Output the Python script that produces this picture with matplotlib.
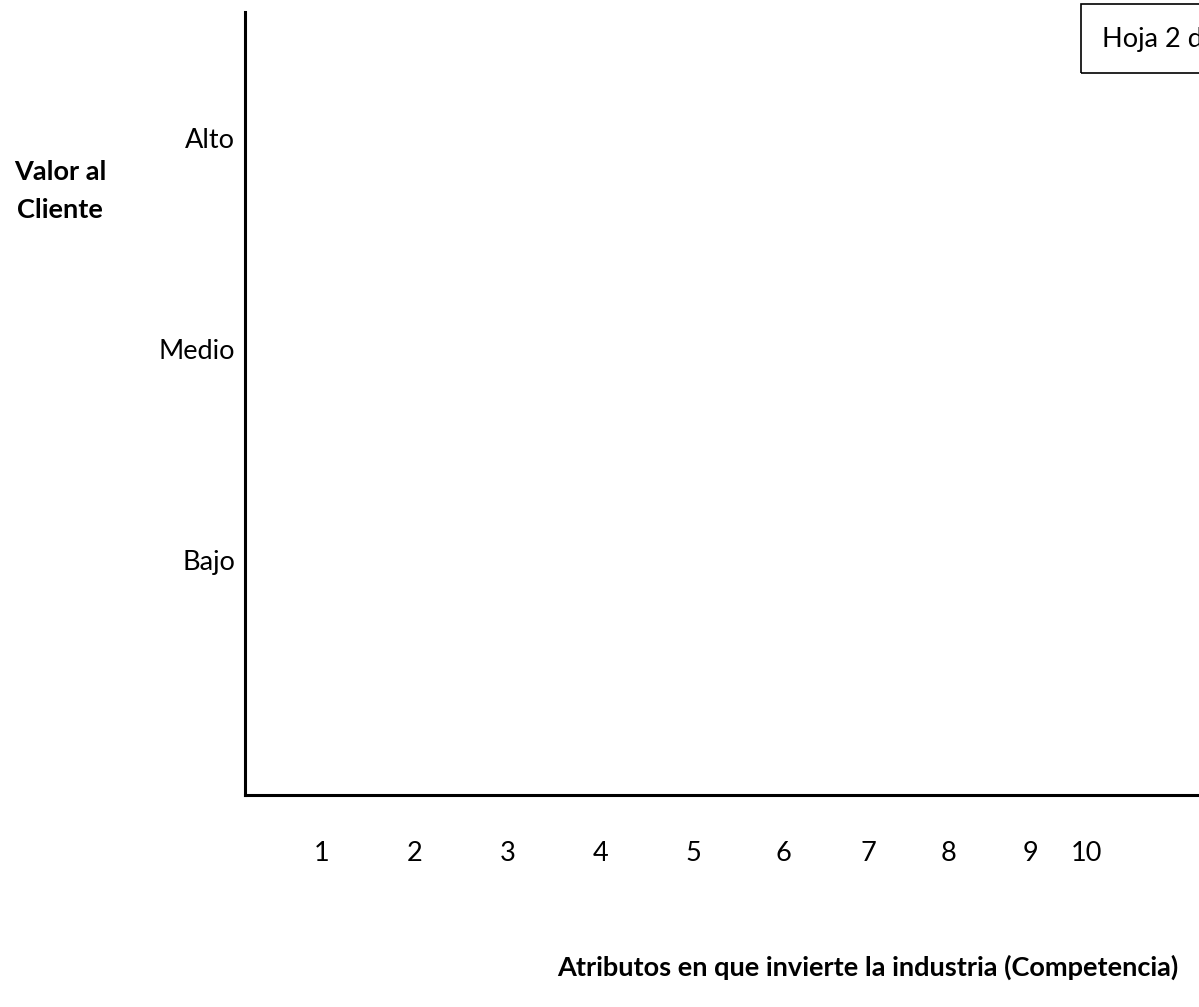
import matplotlib
matplotlib.use("Agg")
from matplotlib import pyplot as plt
from matplotlib.patches import Rectangle

plt.rcParams['font.family'] = ['Lato', 'DejaVu Sans']

# data
x_labels = ['1', '2', '3', '4', '5', '6', '7', '8', '9', '10']
x_pos = [322, 415, 508, 601, 693, 783, 868, 948, 1031, 1086]   # pixel layout of the labels
y_labels = ['Bajo', 'Medio', 'Alto']
y_vals = [1, 2, 3]
y_title = 'Valor al\nCliente'
x_title = 'Atributos en que invierte la industria (Competencia)'
sheet_note = 'Hoja 2 d'

W, H = 1199, 1007
FS = 19.5
fig = plt.figure(figsize=(W / 100, H / 100), dpi=100)
ax = fig.add_axes([245 / W, (H - 795) / H, (W - 245) / W, (795 - 12) / H])

ax.set_xlim(245, W)
ax.set_ylim(-0.114, 3.597)
for s in ['top', 'right']:
    ax.spines[s].set_visible(False)
ax.spines['left'].set_linewidth(2.2)
ax.spines['bottom'].set_linewidth(2.2)

ax.set_xticks(x_pos)
ax.set_xticklabels(x_labels, fontsize=FS)
ax.set_yticks(y_vals)
ax.set_yticklabels(y_labels, fontsize=FS)
ax.tick_params(axis='x', length=0, pad=33)
ax.tick_params(axis='y', length=0, pad=7)

fig.text(60 / W, 1 - 191 / H, y_title, ha='center', va='center',
         fontsize=FS, fontweight='bold', linespacing=1.65)
fig.text(868 / W, 1 - 967 / H, x_title, ha='center', va='center',
         fontsize=FS, fontweight='bold')

fig.patches.append(Rectangle((1081 / W, 1 - 73 / H), 140 / W, 69 / H,
                             transform=fig.transFigure, fill=False,
                             edgecolor='black', linewidth=1.2))
# the sheet note is cut by the right edge in the original too
fig.text(1102 / W, 1 - 40 / H, sheet_note, ha='left', va='center', fontsize=FS)

fig.savefig('out.png', dpi=100)
